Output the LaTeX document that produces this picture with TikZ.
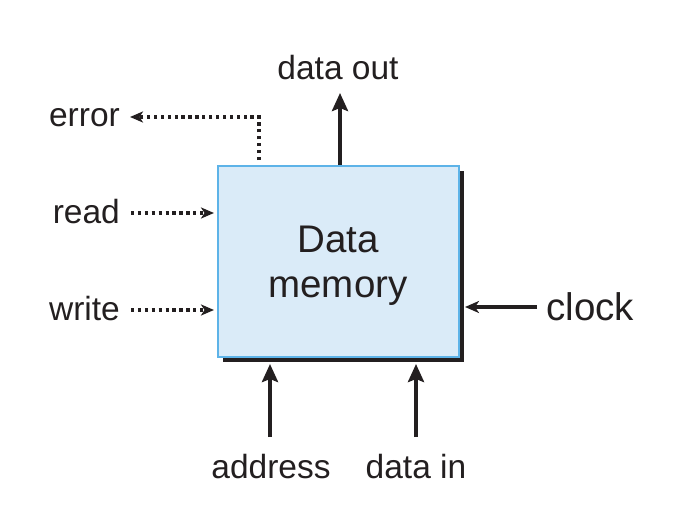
\documentclass[tikz,border=0pt]{standalone}
\usepackage{fontspec}
\setmainfont{Liberation Sans}
\usetikzlibrary{arrows.meta}
\definecolor{boxfill}{HTML}{DAEBF8}
\definecolor{boxline}{HTML}{5DB3E8}
\definecolor{ink}{HTML}{231F20}
\begin{document}
\begin{tikzpicture}[x=1pt,y=-1pt,
  lbl/.style={text=ink,font=\fontsize{33.5}{38}\selectfont,inner sep=0pt},
  big/.style={text=ink,font=\fontsize{38.5}{45}\selectfont,inner sep=0pt},
  solidarrow/.style={draw=ink,line width=4.6pt,-{Stealth[length=18pt,width=16pt,inset=3pt]}},
  dotarrow/.style={draw=ink,line width=3.2pt,dash pattern=on 3.3pt off 3.6pt,-{Stealth[length=13pt,width=11pt,inset=3.5pt]}}]
\useasboundingbox (0,0) rectangle (698,532);
% shadow
\fill[ink] (223,171) rectangle (464,362);
\node[draw=boxline,line width=2.2pt,fill=boxfill,minimum width=241pt,minimum height=191pt,inner sep=0pt,anchor=north west] (mem) at (217,165) {};
\node[big,align=center,anchor=base] (t1) at (338,252) {Data};
\node[big,anchor=base] (t2) at (338,297) {memory};
% labels
\node[lbl,anchor=base] (dout) at (338,80) {data out};
\node[lbl,anchor=base east] (err) at (120,127) {error};
\node[lbl,anchor=base east] (rd) at (120,223) {read};
\node[lbl,anchor=base east] (wr) at (120,320) {write};
\node[big,anchor=base west] (clk) at (546,320) {clock};
\node[lbl,anchor=base] (addr) at (271,478) {address};
\node[lbl,anchor=base] (din) at (416,478) {data in};
% coordinates
\coordinate (errc) at (259,117);
\coordinate (errs) at (259,160);
\coordinate (errt) at (130,117);
\coordinate (rds) at (131,213);
\coordinate (rdt) at (214,213);
\coordinate (wrs) at (131,310);
\coordinate (wrt) at (214,310);
\coordinate (clks) at (537,307);
\coordinate (clkt) at (465,307);
\coordinate (dos) at (340,165);
\coordinate (dot) at (340,93);
\coordinate (ads) at (270,437);
\coordinate (adt) at (270,364);
\coordinate (dis) at (416,437);
\coordinate (dit) at (416,364);
% connectors
\draw[dotarrow] (errs) -- (errc) -- (errt);
\draw[dotarrow] (rds) -- (rdt);
\draw[dotarrow] (wrs) -- (wrt);
\draw[draw=ink,line width=3.4pt,-{Stealth[length=14pt,width=12pt,inset=4pt]}] (clks) -- (clkt);
\draw[solidarrow] (dos) -- (dot);
\draw[solidarrow] (ads) -- (adt);
\draw[solidarrow] (dis) -- (dit);
\end{tikzpicture}
\end{document}
